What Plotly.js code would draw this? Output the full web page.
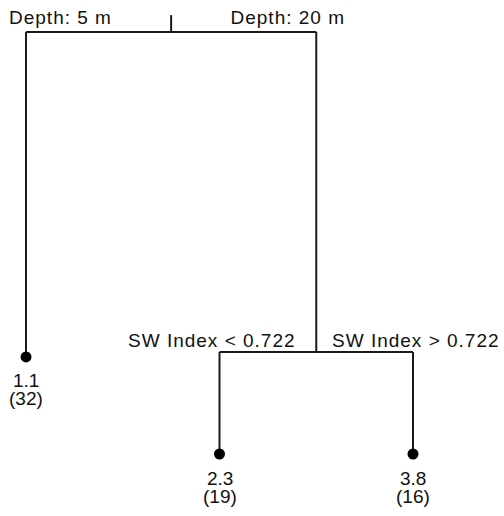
<!DOCTYPE html>
<html>
<head>
<meta charset="utf-8">
<script src="https://cdn.plot.ly/plotly-3.0.1.min.js"></script>
<style>
  html, body { margin: 0; padding: 0; background: #fff; }
  #tree { width: 504px; height: 516px; }
  /* split labels (first four annotations) are set a little wider */
  .annotation[data-index="0"] text,
  .annotation[data-index="1"] text,
  .annotation[data-index="2"] text,
  .annotation[data-index="3"] text { letter-spacing: 1px; }
</style>
</head>
<body>
<div id="tree"></div>
<script>
// Regression tree: rpart-style node numbering (children of n are 2n and 2n+1)
const nodeIds     = [1, 2, 3, 6, 7];
const nodeHeights = [1.0, 0.230, 0.242, 0.0, 0.0];   // vertical position (deviance scale)

// Split labels for internal nodes (left branch / right branch)
const splitNodes  = [1, 3];
const splitLeft   = ["Depth: 5 m", "SW Index < 0.722"];
const splitRight  = ["Depth: 20 m", "SW Index > 0.722"];

// Leaf predictions and number of observations
const leafNodes   = [2, 6, 7];
const leafValues  = [1.1, 2.3, 3.8];
const leafCounts  = [32, 19, 16];

const FONT = { family: "Liberation Sans, Arial, Helvetica, sans-serif", size: 19, color: "#111" };
const INK = "#1a1a1a";

const height = id => nodeHeights[nodeIds.indexOf(id)];
const isLeaf = id => leafNodes.indexOf(id) >= 0;

// x positions: leaves in traversal order at 1, 2, 3 ...; internal nodes at the mean of their children
const xpos = {};
let leafCounter = 0;
function place(id) {
  if (isLeaf(id)) { leafCounter += 1; xpos[id] = leafCounter; return; }
  place(2 * id); place(2 * id + 1);
  xpos[id] = (xpos[2 * id] + xpos[2 * id + 1]) / 2;
}
place(1);

// Branch segments
const ex = [], ey = [];
nodeIds.forEach(id => {
  if (isLeaf(id)) return;
  const l = 2 * id, r = 2 * id + 1, y = height(id);
  ex.push(xpos[l], xpos[r], null); ey.push(y, y, null);
  [l, r].forEach(c => { ex.push(xpos[c], xpos[c], null); ey.push(y, height(c), null); });
});
// short stem above the root
ex.push(xpos[1], xpos[1], null); ey.push(height(1), height(1) + 0.040, null);

const edges = {
  x: ex, y: ey, type: "scatter", mode: "lines",
  line: { color: INK, width: 2 }, hoverinfo: "skip"
};

const leaves = {
  x: leafNodes.map(id => xpos[id]),
  y: leafNodes.map(id => height(id)),
  type: "scatter", mode: "markers",
  marker: { color: "#000", size: 11, symbol: "circle" },
  hoverinfo: "skip"
};

const annotations = [];
splitNodes.forEach((id, i) => {
  const up = id === 1 ? 14 : 11;
  const gapL = id === 1 ? -62 : -26;
  const gapR = id === 1 ? 63 : 22;
  annotations.push({ x: xpos[id], y: height(id), text: splitLeft[i], showarrow: false,
    xanchor: "right", yanchor: "middle", xshift: gapL, yshift: up, font: FONT });
  annotations.push({ x: xpos[id], y: height(id), text: splitRight[i], showarrow: false,
    xanchor: "left", yanchor: "middle", xshift: gapR, yshift: up, font: FONT });
});
leafNodes.forEach((id, i) => {
  annotations.push({ x: xpos[id], y: height(id), text: leafValues[i].toFixed(1), showarrow: false,
    xanchor: "center", yanchor: "middle", yshift: -24, borderpad: 0, font: FONT });
  annotations.push({ x: xpos[id], y: height(id), text: "(" + leafCounts[i] + ")", showarrow: false,
    xanchor: "center", yanchor: "middle", yshift: -42, borderpad: 0, font: FONT });
});

const layout = {
  width: 504, height: 516,
  margin: { l: 0, r: 0, t: 0, b: 0 },
  paper_bgcolor: "#fff", plot_bgcolor: "#fff",
  showlegend: false,
  xaxis: { range: [0.8656, 3.4703], visible: false, fixedrange: true },
  yaxis: { range: [-0.1469, 1.0758], visible: false, fixedrange: true },
  annotations: annotations
};

Plotly.newPlot("tree", [edges, leaves], layout, { displayModeBar: false, staticPlot: true });
</script>
</body>
</html>
